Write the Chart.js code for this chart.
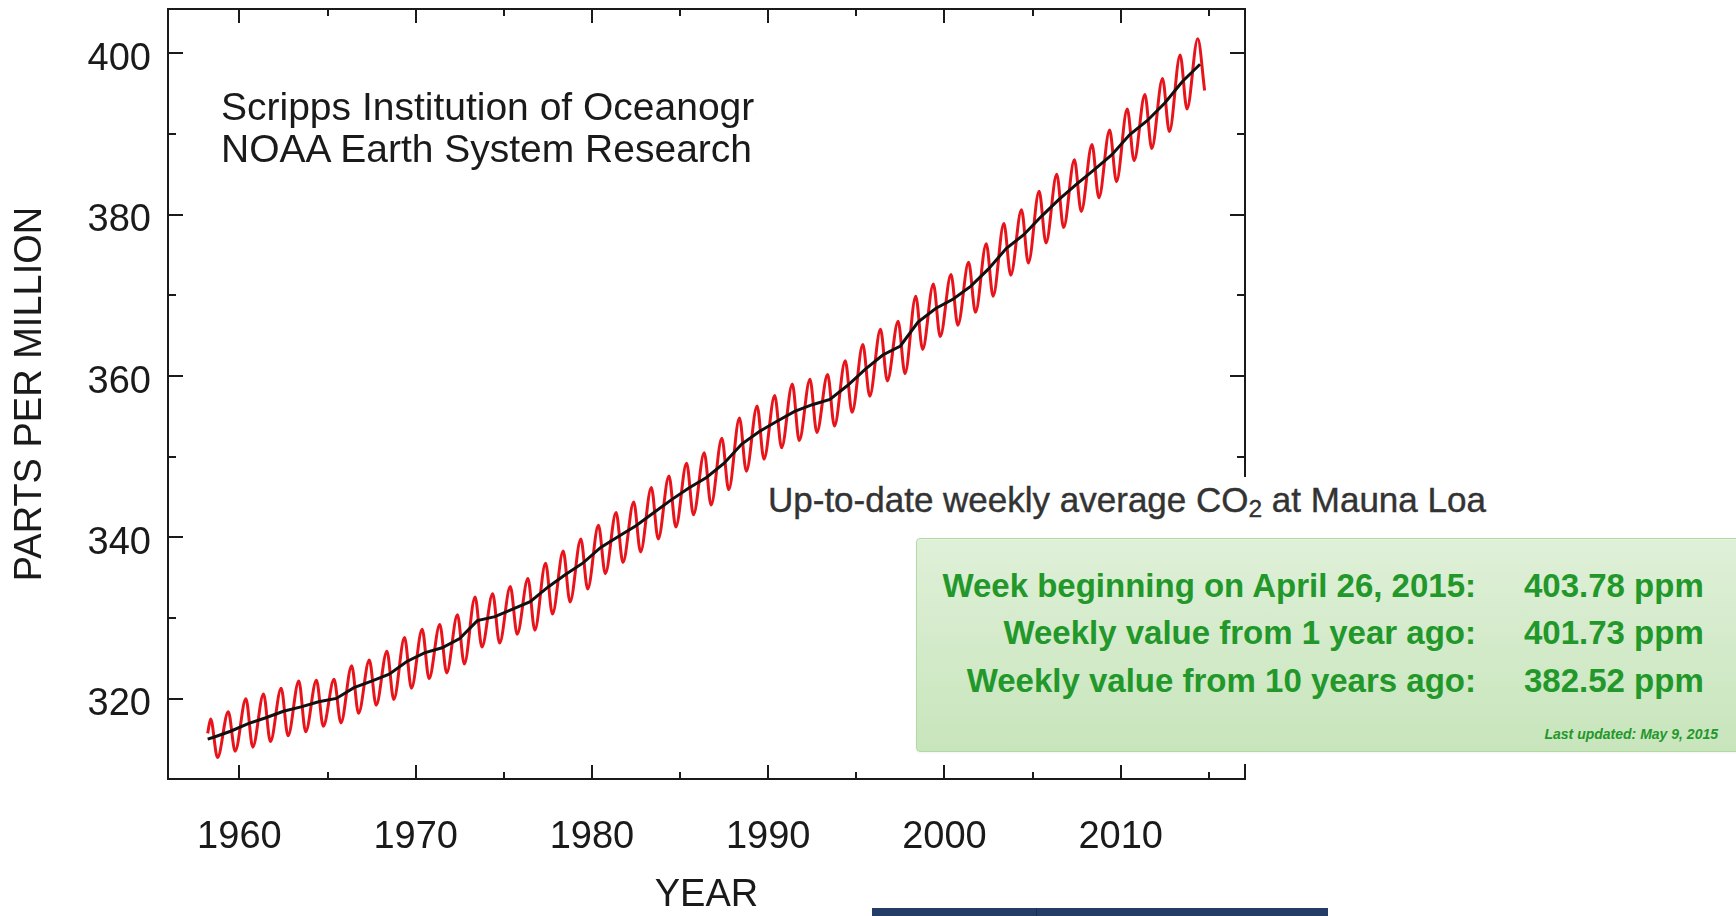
<!DOCTYPE html>
<html>
<head>
<meta charset="utf-8">
<title>Mauna Loa CO2</title>
<script src="https://cdn.jsdelivr.net/npm/chart.js@4.4.0/dist/chart.umd.min.js"></script>
<style>
  html, body { margin: 0; padding: 0; background: #fff; overflow: hidden; }
  #page { position: relative; width: 1736px; height: 916px; overflow: hidden; background: #fff;
          font-family: "Liberation Sans", Arial, Helvetica, sans-serif; }
  #co2 { position: absolute; left: 0; top: 0; }
  .credit { position: absolute; left: 221px; top: 86px; width: 535px; overflow: hidden;
            white-space: nowrap; font-size: 39px; line-height: 42px; color: #1a1a1a; }
  .cover { position: absolute; left: 760px; top: 477px; width: 976px; height: 287px; background: #fff; }
  .heading { position: absolute; left: 768px; top: 482px; white-space: nowrap;
             font-size: 35px; line-height: 35px; color: #333; -webkit-text-stroke: 0.4px #333; }
  .heading sub { font-size: 0.7em; vertical-align: -0.22em; line-height: 0; }
  .box { position: absolute; left: 916px; top: 538px; width: 900px; height: 212px;
         border: 1px solid #b2dba1; border-radius: 4px;
         background: linear-gradient(to bottom, #dff0d8 0%, #c8e5bc 100%);
         box-shadow: inset 0 1px 0 rgba(255,255,255,.25), 0 1px 2px rgba(0,0,0,.05);
         color: #22972a; font-weight: bold; }
  .row { position: absolute; left: 0; white-space: nowrap; font-size: 33px; line-height: 33px; }
  .row .lbl { display: inline-block; width: 559px; text-align: right; }
  .row .val { display: inline-block; margin-left: 48px; }
  .updated { position: absolute; left: 0; top: 188px; width: 801px; text-align: right;
             font-size: 14px; line-height: 14px; font-style: italic; }
  .navbar { position: absolute; left: 872px; top: 908px; width: 456px; height: 8px; background: #243d66; }
  .navbar i { position: absolute; left: 164px; top: 0; width: 1px; height: 8px; background: #1a2e4f; }
</style>
</head>
<body>
<div id="page">
  <canvas id="co2" width="1736" height="916"></canvas>

  <div class="credit">Scripps Institution of Oceanography<br>NOAA Earth System Research Laboratory</div>

  <div class="cover"></div>
  <div class="heading">Up-to-date weekly average CO<sub>2</sub> at Mauna Loa</div>

  <div class="box">
    <div class="row" style="top:30px"><span class="lbl">Week beginning on April 26, 2015:</span><span class="val">403.78 ppm</span></div>
    <div class="row" style="top:77px"><span class="lbl">Weekly value from 1 year ago:</span><span class="val">401.73 ppm</span></div>
    <div class="row" style="top:125px"><span class="lbl">Weekly value from 10 years ago:</span><span class="val">382.52 ppm</span></div>
    <div class="updated">Last updated: May 9, 2015</div>
  </div>

  <div class="navbar"><i></i></div>
</div>

<script>
// monthly record summarised per year: annual mean, May high, early-autumn low (ppm)
const years = [
  1958, 1959, 1960, 1961, 1962, 1963, 1964, 1965, 1966, 1967,
  1968, 1969, 1970, 1971, 1972, 1973, 1974, 1975, 1976, 1977,
  1978, 1979, 1980, 1981, 1982, 1983, 1984, 1985, 1986, 1987,
  1988, 1989, 1990, 1991, 1992, 1993, 1994, 1995, 1996, 1997,
  1998, 1999, 2000, 2001, 2002, 2003, 2004, 2005, 2006, 2007,
  2008, 2009, 2010, 2011, 2012, 2013, 2014
];
const annualPpm = [
  315.2, 315.97, 316.91, 317.64, 318.45, 318.99, 319.62, 320.04, 321.37, 322.18,
  323.05, 324.62, 325.68, 326.32, 327.45, 329.68, 330.18, 331.11, 332.04, 333.83,
  335.40, 336.84, 338.75, 340.11, 341.45, 343.05, 344.65, 346.12, 347.42, 349.19,
  351.57, 353.12, 354.39, 355.61, 356.45, 357.10, 358.83, 360.82, 362.61, 363.73,
  366.70, 368.38, 369.55, 371.14, 373.28, 375.80, 377.52, 379.80, 381.90, 383.79,
  385.60, 387.43, 389.90, 391.65, 393.85, 396.52, 398.65
];
const mayPpm = [
  317.5, 318.4, 320.0, 320.6, 321.3, 322.2, 322.3, 322.4, 324.1, 324.8,
  325.9, 327.6, 328.6, 329.2, 330.4, 332.6, 333.0, 333.9, 334.9, 336.8,
  338.3, 339.8, 341.5, 343.1, 344.4, 346.2, 347.6, 349.2, 350.5, 352.3,
  354.8, 356.3, 357.6, 359.0, 359.6, 360.2, 361.9, 363.9, 365.8, 366.8,
  369.9, 371.4, 372.6, 374.1, 376.4, 378.9, 380.6, 382.9, 385.0, 386.8,
  388.7, 390.5, 393.1, 394.9, 396.9, 399.8, 401.8
];
const autumnPpm = [
  312.7, 313.5, 314.0, 314.7, 315.4, 315.9, 316.6, 317.0, 318.2, 319.2,
  319.9, 321.3, 322.5, 323.2, 324.3, 326.4, 326.9, 328.0, 328.5, 330.5,
  332.0, 333.6, 335.5, 336.9, 338.2, 339.8, 341.3, 342.8, 344.0, 345.9,
  348.2, 349.7, 351.1, 352.0, 353.0, 353.8, 355.5, 357.5, 359.4, 360.3,
  363.3, 364.9, 366.3, 367.9, 369.9, 372.5, 374.0, 376.5, 378.4, 380.4,
  382.1, 384.1, 386.7, 388.2, 390.3, 393.1, 395.4
];
// first monthly readings, March 1958
const firstMonthly = { x: 1958.2, y: 315.7 };
const firstTrend = { x: 1958.2, y: 315.0 };

// fraction of the year where the high / low / mean fall
const MAY = 0.37;
const AUTUMN = 0.76;
const MID = 0.5;

// axes
const yearMin = 1955.95, yearMax = 2017.05;
const ppmMin = 310.05, ppmMax = 405.5;
const yearLabels = [1960, 1970, 1980, 1990, 2000, 2010];
const ppmLabels = [320, 340, 360, 380, 400];
const yearTicks = [1960, 1965, 1970, 1975, 1980, 1985, 1990, 1995, 2000, 2005, 2010, 2015];
const ppmTicks = [320, 330, 340, 350, 360, 370, 380, 390, 400];

const ink = '#1a1a1a';

// red seasonal curve: alternate highs and lows
const seasonal = [firstMonthly];
years.forEach((yr, i) => {
  seasonal.push({ x: yr + MAY, y: mayPpm[i] });
  seasonal.push({ x: yr + AUTUMN, y: autumnPpm[i] });
});
// black trend line
const trend = [firstTrend].concat(years.map((yr, i) => ({ x: yr + MID, y: annualPpm[i] })));

// ticks pointing into the plot on all four sides
const inwardTicks = {
  id: 'inwardTicks',
  afterDatasetsDraw(chart) {
    const { ctx, chartArea: a, scales: { x, y } } = chart;
    ctx.save();
    ctx.strokeStyle = ink;
    ctx.lineWidth = 2;
    ctx.beginPath();
    yearTicks.forEach(v => {
      const px = Math.round(x.getPixelForValue(v));
      const len = v % 10 === 0 ? 14 : 7;
      ctx.moveTo(px, a.bottom); ctx.lineTo(px, a.bottom - len);
      ctx.moveTo(px, a.top); ctx.lineTo(px, a.top + len);
    });
    ppmTicks.forEach(v => {
      const py = Math.round(y.getPixelForValue(v));
      const len = v % 20 === 0 ? 15 : 8;
      ctx.moveTo(a.left, py); ctx.lineTo(a.left + len, py);
      ctx.moveTo(a.right, py); ctx.lineTo(a.right - len, py);
    });
    ctx.stroke();
    ctx.restore();
  }
};

const font38 = { family: '"Liberation Sans", Arial, Helvetica, sans-serif', size: 38 };

new Chart(document.getElementById('co2'), {
  type: 'line',
  data: {
    datasets: [
      {
        label: 'trend',
        data: trend,
        borderColor: '#111',
        borderWidth: 3,
        pointRadius: 0,
        tension: 0
      },
      {
        label: 'monthly',
        data: seasonal,
        borderColor: '#e8141b',
        borderWidth: 3,
        pointRadius: 0,
        cubicInterpolationMode: 'monotone'
      }
    ]
  },
  options: {
    responsive: false,
    animation: false,
    events: [],
    layout: { padding: 0, autoPadding: false },
    plugins: { legend: { display: false }, tooltip: { enabled: false } },
    scales: {
      x: {
        type: 'linear', position: 'bottom', min: yearMin, max: yearMax,
        grid: { display: false, drawTicks: false },
        border: { display: true, color: ink, width: 2 },
        afterBuildTicks: s => { s.ticks = yearLabels.map(v => ({ value: v })); },
        ticks: { autoSkip: false, maxRotation: 0, padding: 36, color: ink, font: font38,
                 callback: v => String(v) },
        title: { display: true, text: 'YEAR', color: ink, padding: 0,
                 font: { ...font38, lineHeight: 1.1 } },
        afterFit: s => { s.height = 137; s.paddingLeft = 0; s.paddingRight = 0; }
      },
      y: {
        type: 'linear', position: 'left', min: ppmMin, max: ppmMax,
        grid: { display: false, drawTicks: false },
        border: { display: true, color: ink, width: 2 },
        afterBuildTicks: s => { s.ticks = ppmLabels.map(v => ({ value: v })); },
        ticks: { autoSkip: false, padding: 17, labelOffset: 6, color: ink, font: font38,
                 callback: v => String(v) },
        title: { display: true, text: 'PARTS PER MILLION', color: ink, padding: { top: 8 },
                 font: font38 },
        afterFit: s => { s.width = 168; s.paddingTop = 0; s.paddingBottom = 0; }
      },
      x2: {
        type: 'linear', position: 'top', min: yearMin, max: yearMax,
        grid: { display: false, drawTicks: false },
        border: { display: true, color: ink, width: 2 },
        ticks: { display: false },
        afterFit: s => { s.height = 9; }
      },
      y2: {
        type: 'linear', position: 'right', min: ppmMin, max: ppmMax,
        grid: { display: false, drawTicks: false },
        border: { display: true, color: ink, width: 2 },
        ticks: { display: false },
        afterFit: s => { s.width = 491; }
      }
    }
  },
  plugins: [inwardTicks]
});
</script>
</body>
</html>
